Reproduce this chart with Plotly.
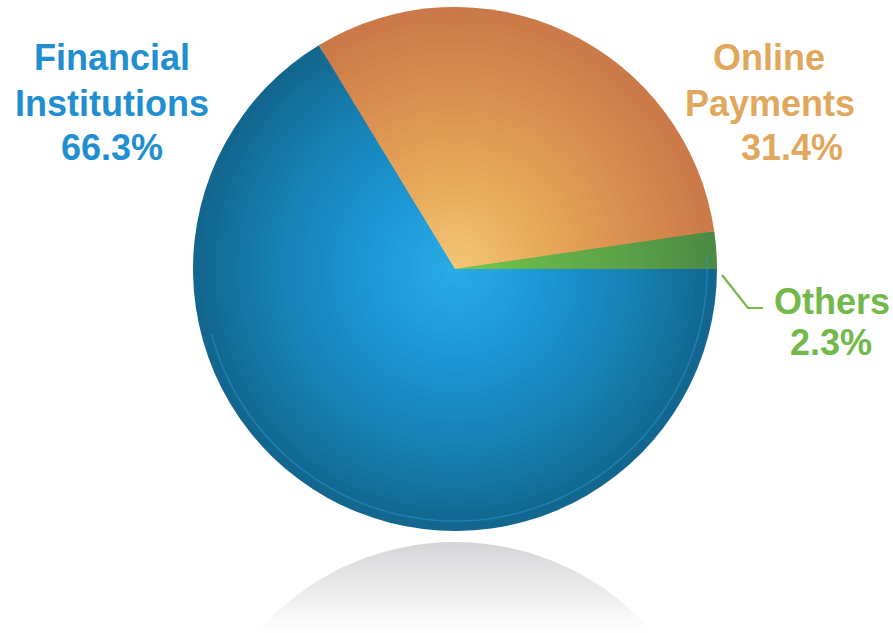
import numpy as np
import plotly.graph_objects as go

# ---------------- data ----------------
labels = ["Financial Institutions", "Online Payments", "Others"]
values = [66.3, 31.4, 2.3]
label_lines = [["Financial", "Institutions"], ["Online", "Payments"], ["Others"]]
text_colors = ["#1f8fd2", "#e1a75c", "#72b94a"]

# radial gradient stops per slice (t = r / R)
grad_t = [0.0, 0.35, 0.7, 1.0]
grad_cols = [
    ["#29ade8", "#1d97d5", "#1781b4", "#13678f"],
    ["#f4c87a", "#e8aa5b", "#da8f50", "#cb7948"],
    ["#79c94b", "#67b448", "#5a9f48", "#4b8b44"],
]

W, H = 893, 633
CX, CY, R = 455, 269, 262


def hex2rgb(h):
    h = h.lstrip("#")
    return np.array([int(h[i:i + 2], 16) for i in (0, 2, 4)], dtype=float)


def mix(t, stops):
    rgb = np.array([hex2rgb(c) for c in stops])
    v = [np.interp(t, grad_t, rgb[:, j]) for j in range(3)]
    v = np.clip(v, 0, 255).astype(int)
    return "rgb(%d,%d,%d)" % tuple(v)


fig = go.Figure()

# reflection below the pie (vertical gradient)
rc_y = 542 + R
th = np.linspace(0, 2 * np.pi, 241)
rx = CX + R * np.cos(th)
ry = rc_y + R * np.sin(th)
ry = np.minimum(ry, H + 5)
fig.add_trace(go.Scatter(
    x=rx, y=ry, mode="lines", line=dict(width=0), fill="toself",
    fillgradient=dict(type="vertical",
                      colorscale=[[0, "rgba(255,255,255,1)"], [1, "rgba(213,213,216,1)"]],
                      start=H, stop=542),
    hoverinfo="skip", showlegend=False))

# layered pies to mimic radial gradient
N = 36
for k in range(N):
    r = R * (1 - k / N)
    t = r / R
    cols = [mix(t, grad_cols[i]) for i in range(3)]
    fig.add_trace(go.Pie(
        labels=labels, values=values, sort=False, direction="clockwise",
        rotation=90, textinfo="none", hoverinfo="skip",
        marker=dict(colors=cols, line=dict(width=0)),
        domain=dict(x=[(CX - r) / W, (CX + r) / W],
                    y=[(H - CY - r) / H, (H - CY + r) / H]),
        showlegend=False))

# annotations from data (one per line)
line_pos = [
    [(112, 57), (112, 103)],
    [(769, 57), (770, 103)],
    [(832, 301)],
]
pct_pos = [(112, 147), (792, 147), (831, 342)]
FONT = "Liberation Sans, Arial"
for i in range(3):
    for txt, (x, y) in zip(label_lines[i], line_pos[i]):
        fig.add_annotation(x=x, y=y, xref="x", yref="y", text="<b>%s</b>" % txt,
                           showarrow=False, borderpad=0,
                           font=dict(family=FONT, size=36, color=text_colors[i]),
                           xanchor="center", yanchor="middle")
    fig.add_annotation(x=pct_pos[i][0], y=pct_pos[i][1], xref="x", yref="y",
                       text="<b>%.1f%%</b>" % values[i], showarrow=False, borderpad=0,
                       font=dict(family=FONT, size=36, color=text_colors[i]),
                       xanchor="center", yanchor="middle")

# rim highlight on lower part of pie
ang = np.linspace(np.radians(-3), np.radians(165), 120)
rr = R - 10
px = CX + rr * np.cos(ang)
py = CY + rr * np.sin(ang)
path = "M " + " L ".join("%.1f,%.1f" % (a, b) for a, b in zip(px, py))
fig.add_shape(type="path", path=path, xref="x", yref="y", layer="above",
              line=dict(color="rgba(40,150,210,0.55)", width=1.5))

# leader line for "Others"
fig.add_shape(type="path", path="M 722,275 L 748,308 L 763,308", xref="x", yref="y",
              layer="above", line=dict(color=text_colors[2], width=2.2))

fig.update_layout(
    width=W, height=H, margin=dict(l=0, r=0, t=0, b=0),
    paper_bgcolor="white", plot_bgcolor="white", showlegend=False,
    xaxis=dict(range=[0, W], visible=False, fixedrange=True),
    yaxis=dict(range=[H, 0], visible=False, fixedrange=True),
)

fig.write_html("out.html")
